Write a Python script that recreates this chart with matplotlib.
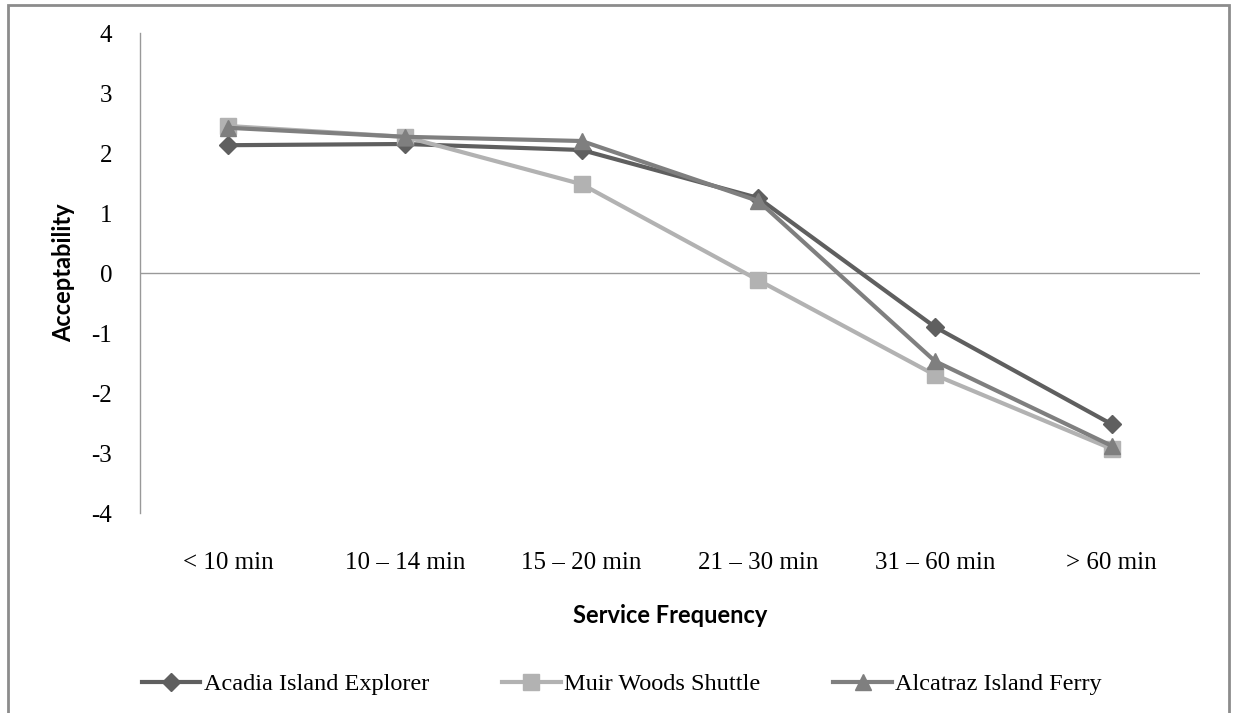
#!/usr/bin/env python3
import matplotlib
matplotlib.use("Agg")
import matplotlib.pyplot as plt
from matplotlib.patches import Rectangle

categories = ["< 10 min", "10 – 14 min", "15 – 20 min", "21 – 30 min", "31 – 60 min", "> 60 min"]
acadia = [2.13, 2.15, 2.05, 1.25, -0.90, -2.52]
muir = [2.45, 2.27, 1.48, -0.12, -1.70, -2.93]
alcatraz = [2.42, 2.27, 2.20, 1.20, -1.47, -2.88]

serif = "Liberation Serif"
sans = "Lato"
plt.rcParams["axes.unicode_minus"] = False

fig = plt.figure(figsize=(12.33, 7.13), dpi=100)
ax = fig.add_axes([140 / 1233, 1 - 513 / 713, 1060 / 1233, 480 / 713])

x = list(range(len(categories)))
ax.plot(x, acadia, color="#5f5f5f", lw=3, marker="D", ms=9, label="Acadia Island Explorer", zorder=3)
ax.plot(x, muir, color="#b2b2b2", lw=3, marker="s", ms=11, label="Muir Woods Shuttle", zorder=3)
ax.plot(x, alcatraz, color="#7f7f7f", lw=3, marker="^", ms=12, label="Alcatraz Island Ferry", zorder=4)

ax.set_xlim(-0.5, 5.5)
ax.set_ylim(-4, 4)
ax.set_yticks(range(-4, 5))
ax.set_xticks(x)
ax.set_xticklabels(categories, fontfamily=serif, fontsize=18)
for t in ax.get_yticklabels():
    t.set_fontfamily(serif)
    t.set_fontsize(18)
ax.tick_params(axis="both", length=0)
ax.tick_params(axis="y", pad=20)
ax.tick_params(axis="x", pad=28)

for s in ["top", "right", "bottom"]:
    ax.spines[s].set_visible(False)
ax.spines["left"].set_color("#999999")
ax.spines["left"].set_linewidth(1)
ax.axhline(0, color="#999999", lw=1, zorder=1)

ax.set_xlabel("Service Frequency", fontfamily=sans, fontweight="bold", fontsize=17, labelpad=22)
ax.set_ylabel("Acceptability", fontfamily=sans, fontweight="bold", fontsize=17, labelpad=12)

leg = fig.legend(loc="center", bbox_to_anchor=(622 / 1233, 1 - 684 / 713), ncol=3, frameon=False,
                 prop={"family": serif, "size": 17.5}, handlelength=2.4, columnspacing=3,
                 handletextpad=0.15)

fig.patches.append(Rectangle((8 / 1233, -0.05), 1221 / 1233, 1.05 - 5 / 713, transform=fig.transFigure,
                             fill=False, edgecolor="#8c8c8c", lw=2))

fig.savefig("out.png", dpi=100)
